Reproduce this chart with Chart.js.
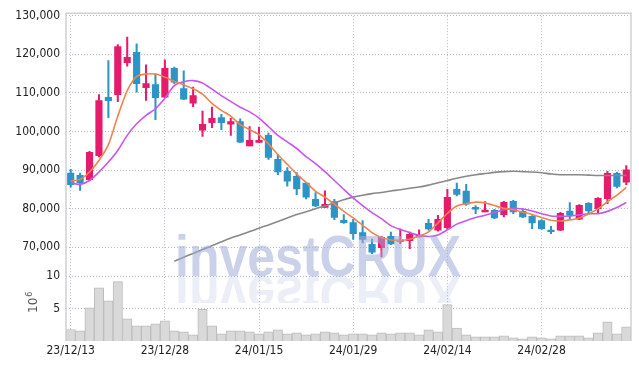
<!DOCTYPE html>
<html><head><meta charset="utf-8">
<script src="https://cdn.jsdelivr.net/npm/chart.js@4.4.1/dist/chart.umd.min.js"></script>
<style>html,body{margin:0;background:#fff}#wrap{width:639px;height:369px}</style>
</head><body><div id="wrap"><canvas id="c"></canvas></div>
<script>
/* ===================== data ===================== */
const dates = ['23/12/13','23/12/14','23/12/15','23/12/18','23/12/19','23/12/20','23/12/21','23/12/22','23/12/26','23/12/27',
  '23/12/28','24/01/02','24/01/03','24/01/04','24/01/05','24/01/08','24/01/09','24/01/10','24/01/11','24/01/12',
  '24/01/15','24/01/16','24/01/17','24/01/18','24/01/19','24/01/22','24/01/23','24/01/24','24/01/25','24/01/26',
  '24/01/29','24/01/30','24/01/31','24/02/01','24/02/02','24/02/05','24/02/06','24/02/07','24/02/08','24/02/13',
  '24/02/14','24/02/15','24/02/16','24/02/19','24/02/20','24/02/21','24/02/22','24/02/23','24/02/26','24/02/27',
  '24/02/28','24/02/29','24/03/04','24/03/05','24/03/06','24/03/07','24/03/08','24/03/11','24/03/12','24/03/13'];

const open  = [89200,88650,87500,93750,108850,109550,117850,120500,111350,112200,108900,116350,111150,107350,100350,102300,103600,101900,102600,96250,
  97200,99000,92800,89650,88400,86650,82400,80350,81850,77000,76400,73800,70750,69900,72850,71500,71700,72700,76200,74400,
  75100,85000,84550,80350,79150,79550,78450,81900,79300,78000,76900,74450,74450,79400,77300,81400,80000,82600,89150,86900];
const close = [86200,86750,94600,108050,108000,122050,119200,112400,112400,108750,116350,112800,108400,109300,101850,103400,102300,102550,97250,97700,
  97700,93300,89500,87150,85100,83000,80700,81150,77750,76400,73550,72000,68750,72600,70850,71700,73350,73000,74750,77250,
  82950,83700,81150,79900,79650,77600,81650,79150,77850,76300,74850,74050,78800,78300,80850,79400,82700,89150,85800,90100];
const high  = [90200,89250,94850,109550,118400,122550,124450,122750,117300,114900,118600,116700,115750,111500,105300,106350,104450,103400,103300,101250,
  101150,99600,94100,90650,89350,86750,84150,84650,82400,78450,77250,76900,72150,72850,73950,74800,73950,74550,77250,78300,
  85000,86650,86300,80800,81850,79850,81900,82150,80000,78200,77150,75450,79050,81550,81050,81550,82850,89650,89400,91150];
const low   = [85600,84750,87250,93400,103600,107750,116950,110200,108050,103050,108850,112400,108250,106450,98750,101000,100450,99000,97100,96250,
  97200,92800,88800,85850,83650,82500,80550,80350,77150,76200,72000,71100,68350,67500,70700,70950,69650,72650,74400,74150,
  74650,83300,80850,78700,79150,77400,77850,78700,77700,74850,74650,73550,74300,77400,77150,78550,78900,81300,85350,86250];

const maShort = [87200,87600,89500,92500,96600,104000,110600,114300,114900,114900,114100,113000,112100,111100,109700,107300,105500,104000,101800,100500,
  99200,96800,94000,91500,89000,86800,84500,83000,81200,79300,77600,75700,73800,72500,71900,71800,72100,72900,74000,76300,
  78800,80700,81300,81700,81500,80800,80100,79700,79100,78500,77700,77000,76800,77100,77600,78600,80000,81800,83500,85500];
const maMid = [86700,86300,87300,89500,92100,95100,99000,102000,104200,105900,108600,111900,112900,113200,112600,111000,109300,107800,106300,105100,
  103500,101300,99000,97300,95600,93500,91700,89600,87300,85000,82800,80800,79000,77400,75600,74600,73800,73100,72800,73200,
  74500,76000,76900,77700,78300,79000,79700,80100,79900,79400,78700,78100,78000,78100,78400,78700,78700,79300,80300,81600];
const maLong = [null,null,null,null,null,null,null,null,null,null,null,66400,67400,68400,69400,70400,71400,72400,73200,74100,
  74900,75800,76700,77600,78500,79200,80000,80700,81500,82300,83000,83500,83900,84200,84600,84900,85300,85600,86100,86700,
  87300,87900,88400,88800,89100,89400,89600,89700,89600,89500,89300,89000,88800,88800,88800,88700,88600,88600,88600,88600];

// volume in 10^6
const volume = [1.77,1.57,5.12,8.2,6.2,9.13,3.42,2.34,2.34,2.65,3.11,1.57,1.42,0.96,4.86,2.34,1.11,1.57,1.57,1.42,
  1.11,1.42,1.73,1.11,1.27,0.96,1.11,1.42,1.27,0.96,1.11,1.11,0.96,1.27,1.11,1.27,1.27,0.96,1.73,1.42,
  5.59,1.98,0.96,0.65,0.65,0.65,0.8,0.49,0.34,0.65,0.49,0.34,0.8,0.8,0.8,0.49,1.27,2.96,1.11,2.19];

const priceTicks = [70000,80000,90000,100000,110000,120000,130000];

/* ===================== style ===================== */
const UP='#e51c6c', DOWN='#2d94c8', GRID='#b8b8cc';
const candleCol = open.map((o,i)=> close[i]>=o ? UP : DOWN);
const tickFont = {family:'"DejaVu Sans Condensed"', size:12};
const gridDash = {display:false, dash:[1,2]};

/* ---------- frame + 10^6 + watermark ---------- */
const extras = {
  id:'extras',
  afterDatasetsDraw(chart){
    const {ctx, chartArea:a} = chart;
    ctx.save();
    // watermark
    const txt='investCRUX', x0=175, base=276, w=286;
    ctx.font='bold 58px "Liberation Sans"';
    const sx=w/ctx.measureText(txt).width;
    ctx.save(); ctx.translate(x0,base); ctx.scale(sx,1);
    ctx.fillStyle='rgba(160,172,215,0.55)'; ctx.fillText(txt,0,0); ctx.restore();
    ctx.save(); ctx.beginPath(); ctx.rect(x0-5,base,w+10,27); ctx.clip();
    ctx.translate(x0,base); ctx.scale(sx,-1);
    ctx.fillStyle='rgba(160,172,215,0.2)'; ctx.fillText(txt,0,0); ctx.restore();
    // frame (no bottom line)
    ctx.strokeStyle='#cfcfd6'; ctx.lineWidth=1.5;
    ctx.beginPath();
    ctx.moveTo(a.left,a.bottom); ctx.lineTo(a.left,a.top); ctx.lineTo(a.right,a.top); ctx.lineTo(a.right,a.bottom);
    ctx.stroke();
    // volume unit
    ctx.translate(37,313); ctx.rotate(-Math.PI/2);
    ctx.fillStyle='#555'; ctx.font='12px "DejaVu Sans"';
    ctx.fillText('10',0,0);
    const w10=ctx.measureText('10').width;
    ctx.font='8px "DejaVu Sans"'; ctx.fillText('6',w10+1,-5);
    ctx.restore();
  }
};

/* ===================== chart ===================== */
new Chart(document.getElementById('c'),{
  data:{
    labels:dates,
    datasets:[
      {type:'line',label:'short',data:maShort,borderColor:'#f0844c',borderWidth:1.6,pointRadius:0,tension:0.25,yAxisID:'yP',order:0},
      {type:'line',label:'mid',data:maMid,borderColor:'#c955ef',borderWidth:1.6,pointRadius:0,tension:0.25,yAxisID:'yP',order:0},
      {type:'line',label:'long',data:maLong,borderColor:'#888',borderWidth:1.6,pointRadius:0,tension:0.25,yAxisID:'yP',order:0},
      {type:'bar',label:'wick',data:dates.map((_,i)=>[low[i],high[i]]),backgroundColor:candleCol,
        barThickness:1.4,grouped:false,yAxisID:'yP',order:2},
      {type:'bar',label:'body',data:dates.map((_,i)=>[open[i],close[i]]),backgroundColor:candleCol,
        barThickness:6.5,minBarLength:1.5,grouped:false,yAxisID:'yP',order:1},
      {type:'bar',label:'vol',data:volume,backgroundColor:'#d9d9d9',borderColor:'#bdbdbd',borderWidth:1,
        barPercentage:1,categoryPercentage:1,grouped:false,yAxisID:'yV',order:3}
    ]
  },
  options:{
    responsive:true, maintainAspectRatio:false, animation:false,
    layout:{padding:{top:13,right:8,left:0,bottom:0}},
    plugins:{legend:{display:false},tooltip:{enabled:false}},
    scales:{
      x:{type:'category',offset:true,
        grid:{offset:false,color:GRID,drawTicks:false},border:gridDash,
        ticks:{autoSkip:false,maxRotation:0,padding:3,color:'#222',font:tickFont,
          callback:(v,i)=> i%10===0 ? dates[i] : null},
        afterFit:s=>{s.height=28;}},
      yV:{type:'linear',position:'left',stack:'main',stackWeight:65,min:0,max:10,
        grid:{color:GRID,drawTicks:false},border:gridDash,
        ticks:{stepSize:5,padding:6,color:'#222',font:tickFont,callback:v=> v===0 ? null : v},
        afterFit:s=>{s.width=66;}},
      yP:{type:'linear',position:'left',stack:'main',stackWeight:263,min:62540,max:130670,
        grid:{color:GRID,drawTicks:false},border:gridDash,
        ticks:{padding:6,color:'#222',font:tickFont,callback:v=>v.toLocaleString('en-US')},
        afterBuildTicks:s=>{s.ticks=priceTicks.map(v=>({value:v}));},
        afterFit:s=>{s.width=66;}}
    }
  },
  plugins:[extras]
});
</script></body></html>
